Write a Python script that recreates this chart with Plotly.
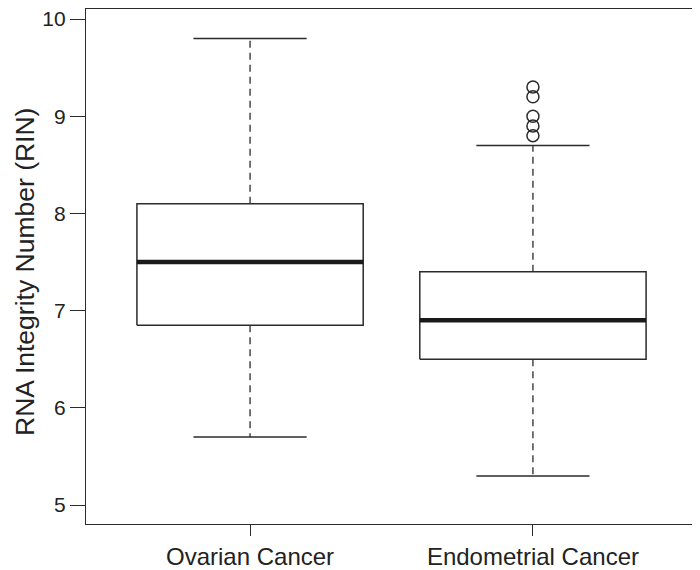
import plotly.graph_objects as go

categories = ["Ovarian Cancer", "Endometrial Cancer"]
lower_whisker = [5.7, 5.3]
q1 = [6.85, 6.5]
median = [7.5, 6.9]
q3 = [8.1, 7.4]
upper_whisker = [9.8, 8.7]
outliers = [[], [9.3, 9.2, 9.0, 8.9, 8.8]]
y_ticks = [5, 6, 7, 8, 9, 10]
y_title = "RNA Integrity Number (RIN)"

LINE = "#2b2b2b"
BOX_HALF = 0.4
CAP_HALF = 0.2

fig = go.Figure()
for i, cat in enumerate(categories):
    x0 = i + 1
    # whiskers (dashed)
    fig.add_trace(go.Scatter(x=[x0, x0], y=[q3[i], upper_whisker[i]], mode="lines",
                             line=dict(color=LINE, width=1.3, dash="7px,5px"), hoverinfo="skip"))
    fig.add_trace(go.Scatter(x=[x0, x0], y=[q1[i], lower_whisker[i]], mode="lines",
                             line=dict(color=LINE, width=1.3, dash="7px,5px"), hoverinfo="skip"))
    # caps
    for v in (upper_whisker[i], lower_whisker[i]):
        fig.add_trace(go.Scatter(x=[x0 - CAP_HALF, x0 + CAP_HALF], y=[v, v], mode="lines",
                                 line=dict(color=LINE, width=1.5), hoverinfo="skip"))
    # box
    fig.add_trace(go.Scatter(
        x=[x0 - BOX_HALF, x0 + BOX_HALF, x0 + BOX_HALF, x0 - BOX_HALF, x0 - BOX_HALF],
        y=[q1[i], q1[i], q3[i], q3[i], q1[i]], mode="lines",
        line=dict(color=LINE, width=1.5), fill="toself", fillcolor="white", hoverinfo="skip"))
    # median
    fig.add_trace(go.Scatter(x=[x0 - BOX_HALF, x0 + BOX_HALF], y=[median[i], median[i]], mode="lines",
                             line=dict(color="#1a1a1a", width=4.5), hoverinfo="skip"))
    # outliers
    if outliers[i]:
        fig.add_trace(go.Scatter(x=[x0] * len(outliers[i]), y=outliers[i], mode="markers",
                                 marker=dict(symbol="circle-open", size=12, color=LINE,
                                             line=dict(width=1.5, color=LINE)),
                                 hoverinfo="skip"))

# the page body adds an 8px offset, so the figure is 8px smaller on each axis
fig.update_layout(
    width=692, height=562,
    margin=dict(l=78, r=3, t=1, b=46, autoexpand=False),
    plot_bgcolor="white", paper_bgcolor="white",
    showlegend=False,
    font=dict(family="Liberation Sans, Arial, sans-serif", color="#222222"),
    annotations=[dict(text=y_title, textangle=-90, xref="paper", yref="paper",
                      x=-0.101, y=0.49, xanchor="center", yanchor="middle",
                      showarrow=False, font=dict(size=26.5, color="#222222"))],
)
fig.update_xaxes(range=[0.42, 2.58], tickvals=[1, 2], ticktext=categories,
                 automargin=False,
                 showgrid=False, zeroline=False, showline=True, mirror=True,
                 linecolor=LINE, linewidth=1.3, ticks="outside", ticklen=11, tickwidth=1.3,
                 tickcolor=LINE, tickfont=dict(size=24))
fig.update_yaxes(range=[4.805, 10.103], tickvals=y_ticks,
                 automargin=False, ticklabeloverflow="allow",
                 showgrid=False, zeroline=False, showline=True, mirror=True,
                 linecolor=LINE, linewidth=1.3, ticks="outside", ticklen=15, tickwidth=1.3,
                 tickcolor=LINE, tickfont=dict(size=21))

fig.write_html("out.html")
